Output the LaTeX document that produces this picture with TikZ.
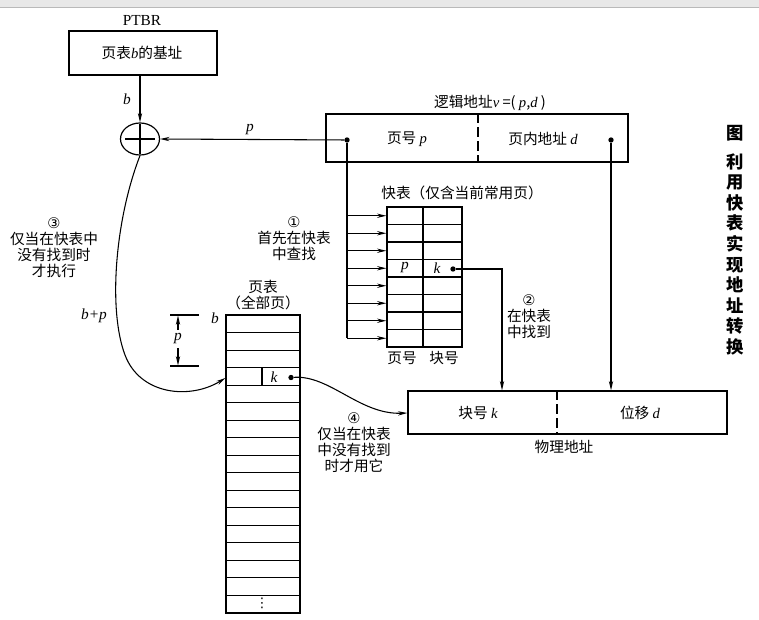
\documentclass[tikz,border=0pt]{standalone}
\usepackage{fontspec}
\setmainfont{Liberation Serif}
\newfontfamily\cjk{Noto Sans CJK SC}
\newfontfamily\symf{DejaVu Sans}
\usetikzlibrary{arrows.meta,calc,shapes.geometric}
\newcommand\vi[1]{{\rmfamily\itshape #1}}
\begin{document}
\begin{tikzpicture}[x=0.75pt,y=-0.75pt,
  lab/.style={font=\cjk\fontsize{11}{12}\selectfont, inner sep=0pt, align=center},
  latin/.style={font=\rmfamily\itshape\fontsize{11.5}{12}\selectfont, inner sep=0pt},
  box/.style={draw, line width=0.9pt, inner sep=0pt},
  ln/.style={line width=0.8pt},
  arr/.style={-{Stealth[length=7pt,width=3.2pt]}, line width=0.8pt},
  dotc/.style={circle, fill, inner sep=0pt, minimum size=4pt},
  dsh/.style={line width=0.9pt, dash pattern=on 7pt off 3.5pt}]
\useasboundingbox (0,0) rectangle (759,620);
% top bar
\fill[gray!18] (0,0) rectangle (759,7);
\draw[gray!55] (0,7) -- (759,7);

% PTBR
\node[font=\rmfamily\fontsize{11.5}{13}\selectfont, inner sep=0pt] (ptbrl) at (142,21) {PTBR};
\node[box, minimum width=111pt, minimum height=33pt] (ptbr) at (143,53) {};
\node[lab] (ptbrt) at (142,53) {页表\vi{b}的基址};

% adder
\node[draw, ellipse, line width=0.9pt, minimum width=29.25pt, minimum height=24pt, inner sep=0pt] (sum) at (140,139) {};
\draw[line width=1pt] ($(sum.center)+(-15,0)$) -- ($(sum.center)+(15,0)$);
\draw[line width=1pt] ($(sum.north)+(0,1.5)$) -- ($(sum.south)+(0,-1.5)$);
\draw[arr] (ptbr.south -| sum.north) -- (sum.north);
\node[latin] (lb) at (127,99) {b};

% logical address
\node[box, minimum width=226.5pt, minimum height=36pt] (lbox) at (477,138) {};
\draw[dsh] (lbox.north -| 478,0) -- (lbox.south -| 478,0);
\node[lab] (lv) at (490,103) {逻辑地址\vi{v} =( \vi{p},\vi{d} )};
\node[lab] (lp) at (407,139) {页号 \vi{p}};
\node[lab] (ld) at (543,139) {页内地址 \vi{d}};
\node[dotc] (pdot) at (347,140) {};
\node[dotc] (ddot) at (611,140) {};
\draw[arr] (pdot) -- (sum.east);
\node[latin] (lpp) at (250,130) {p};

% fast table
\node[box, minimum width=56.25pt, minimum height=105pt] (ft) at (424.5,277) {};
\foreach \i in {1,...,7} \draw[ln] (387,207+17.5*\i) -- (462,207+17.5*\i);
\draw[ln] (ft.north -| 423,0) -- (ft.south -| 423,0);
\coordinate (vend) at (347,338.25);
\draw[ln] (pdot) -- (vend);
\foreach \i in {0,...,7} \draw[arr] (347,215.75+17.5*\i) -- (ft.west |- 0,215.75+17.5*\i);
\node[lab] (fttitle) at (462,193) {快表（仅含当前常用页）};
\node[latin] (ftp) at (405,268) {p};
\node[latin] (ftk) at (437,268) {k};
\node[dotc] (kdot) at (453,269) {};
\node[lab] (fth1) at (402,358) {页号};
\node[lab] (fth2) at (444,358) {块号};

% physical address
\node[box, minimum width=239.25pt, minimum height=32.25pt] (pbox) at (567.5,412.5) {};
\draw[dsh] (pbox.north -| 557,0) -- (pbox.south -| 557,0);
\node[lab] (pk) at (478,413) {块号 \vi{k}};
\node[lab] (pd) at (640,413) {位移 \vi{d}};
\node[lab] (pl) at (564,447) {物理地址};
\coordinate (pin) at (pbox.north -| 502,0);
\draw[arr] (kdot) -| (pin);
\draw[arr] (ddot) -- (ddot |- pbox.north);

% page table
\node[box, minimum width=55.5pt, minimum height=223.5pt] (pt) at (263,464) {};
\foreach \i in {1,...,16} \draw[ln] (226,315+17.53*\i) -- (300,315+17.53*\i);
\draw[ln] (262,367.6) -- (262,385.1);
\node[latin] (ptk) at (274,377) {k};
\node[dotc] (pkdot) at (291,377.5) {};
\node[font=\symf\fontsize{10}{12}\selectfont, inner sep=0pt] (vdots) at (262,603) {⋮};
\node[latin] (ptb) at (215,318) {b};
\node[lab] (pttitle) at (263,295.5) {页表\\（全部页）};

% dimension p
\draw[ln] (170,315) -- (199,315);
\draw[ln] (170,366) -- (199,366);
\node[latin] (dimp) at (178,339) {p};
\draw[arr] (178,330) -- (178,315.5);
\draw[arr] (178,348) -- (178,365.5);

% curves
\draw[arr] (sum.south) .. controls (115,220) and (108,310) .. (125,355)
  .. controls (140,395) and (190,400) .. (pt.west |- 0,378);
\node[latin] (lbp) at (94,316) {b+p};
\draw[arr] (pkdot) .. controls (330,375) and (360,415) .. (pbox.west |- 0,413);

% annotations
\node[lab] (n3) at (54,248) {{\symf ③}\\仅当在快表中\\没有找到时\\才执行};
\node[lab] (n1) at (294,239) {{\symf ①}\\首先在快表\\中查找};
\node[lab] (n2) at (529,317) {{\symf ②}\\在快表\\中找到};
\node[lab] (n4) at (354,443) {{\symf ④}\\仅当在快表\\中没有找到\\时才用它};

% title
\node[font=\cjk\bfseries\fontsize{13}{15.45}\selectfont, inner sep=0pt] (tt0) at (735,133) {图};
\node[font=\cjk\bfseries\fontsize{13}{15.45}\selectfont, inner sep=0pt, align=center, anchor=north] (tt1) at (735,153) {利\\用\\快\\表\\实\\现\\地\\址\\转\\换};
\end{tikzpicture}
\end{document}
